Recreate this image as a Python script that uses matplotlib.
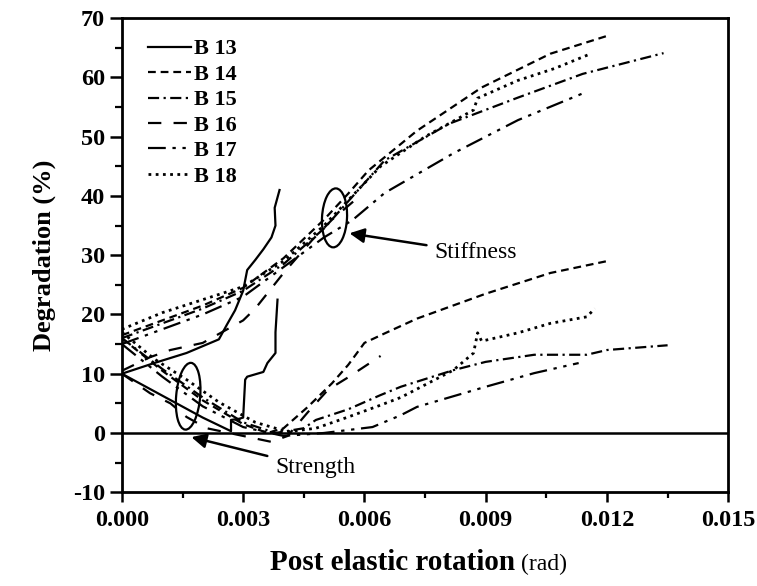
import matplotlib
matplotlib.use("Agg")
import matplotlib.pyplot as plt
from matplotlib.patches import Ellipse
from matplotlib.transforms import ScaledTranslation

plt.rcParams["axes.unicode_minus"] = False

# ---------------------------------------------------------------------------
# Data (rotation in rad, degradation in %)
# ---------------------------------------------------------------------------
labels = ["B 13", "B 14", "B 15", "B 16", "B 17", "B 18"]

# stiffness degradation curves
b13_stf_x = [0, 0.0008, 0.0016, 0.0024, 0.0026, 0.0028, 0.0030, 0.0031, 0.0033, 0.0035, 0.0037, 0.0038, 0.00378, 0.0039]
b13_stf_y = [10, 11.8, 13.5, 15.8, 18.3, 20.7, 24, 27.5, 29.2, 31, 33, 35, 38, 41]
b14_stf_x = [0, 0.001, 0.002, 0.003, 0.004, 0.005, 0.0056, 0.0061, 0.0073, 0.0089, 0.0106, 0.0120]
b14_stf_y = [16.5, 19, 21.5, 24.5, 29.5, 36, 40.4, 44.3, 51, 58.3, 64, 67]
b15_stf_x = [0, 0.001, 0.002, 0.003, 0.004, 0.005, 0.0065, 0.0081, 0.0098, 0.0114, 0.0134]
b15_stf_y = [16, 18.5, 21, 24, 28.5, 34.5, 46, 52.2, 56.6, 60.6, 64.1]
b16_stf_x = [0, 0.0007, 0.0012, 0.0020, 0.0030, 0.0033, 0.0040, 0.0047, 0.0052, 0.0058]
b16_stf_y = [10.5, 12.8, 14, 15.2, 19, 21, 27, 32.5, 36, 39.5]
b17_stf_x = [0, 0.001, 0.002, 0.003, 0.004, 0.005, 0.0057, 0.0065, 0.0082, 0.0098, 0.0114]
b17_stf_y = [15, 17.5, 20, 23, 28, 33, 35.9, 40.5, 47.2, 52.8, 57.3]
b18_stf_x = [0, 0.001, 0.002, 0.003, 0.004, 0.005, 0.0064, 0.0075, 0.0087, 0.0088, 0.0098, 0.0107, 0.0116]
b18_stf_y = [17.5, 20.3, 22.5, 24.7, 29, 35, 45, 50, 54.5, 56.5, 59.5, 61.5, 64]

# strength degradation curves
b13_str_x = [0, 0.0010, 0.0020, 0.0027, 0.0027, 0.0029, 0.0030, 0.00305, 0.0031, 0.0035, 0.0036, 0.0038, 0.0038, 0.00385]
b13_str_y = [10, 6.3, 2.6, 0.3, 2.2, 2.4, 2.6, 9, 9.5, 10.3, 11.8, 13.5, 17, 22.5]
b14_str_x = [0, 0.001, 0.002, 0.003, 0.0036, 0.0040, 0.0046, 0.0052, 0.0056, 0.0060, 0.0065, 0.0073, 0.0090, 0.0106, 0.0120]
b14_str_y = [16, 10.5, 5.5, 1.5, 0, 0.8, 4.4, 8.4, 11.5, 15.2, 16.8, 19.3, 23.5, 27, 29]
b15_str_x = [0, 0.001, 0.002, 0.003, 0.0038, 0.0045, 0.0048, 0.0056, 0.0064, 0.0069, 0.0082, 0.0090, 0.0102, 0.0115, 0.0120, 0.0135]
b15_str_y = [16, 10.8, 6, 1.8, 0, 0.8, 2.2, 4, 6.4, 7.8, 10.6, 12, 13.2, 13.2, 14, 14.8]
b16_str_x = [0, 0.0007, 0.0012, 0.0016, 0.0021, 0.0030, 0.0037, 0.0041, 0.0046, 0.0051, 0.0056, 0.0064]
b16_str_y = [10, 6.7, 5, 2.7, 0.8, -0.5, -1.5, -0.5, 3.5, 7.3, 9.4, 13]
b17_str_x = [0, 0.001, 0.002, 0.003, 0.004, 0.005, 0.0062, 0.0069, 0.0073, 0.0090, 0.0102, 0.0113]
b17_str_y = [15, 9.5, 4.5, 1, -0.5, 0, 1, 3, 4.4, 7.8, 10.1, 11.8]
b18_str_x = [0, 0.0008, 0.0016, 0.0024, 0.0033, 0.0041, 0.0048, 0.0056, 0.0064, 0.0069, 0.0082, 0.0087, 0.0088, 0.0089, 0.0098, 0.0106, 0.0115, 0.0117]
b18_str_y = [17, 12.5, 9, 5.2, 1.8, 0.2, 0.8, 2.7, 4.7, 6, 10.6, 13.5, 16.9, 15.5, 16.9, 18.5, 19.6, 21]

stiffness = [(b13_stf_x, b13_stf_y), (b14_stf_x, b14_stf_y), (b15_stf_x, b15_stf_y),
             (b16_stf_x, b16_stf_y), (b17_stf_x, b17_stf_y), (b18_stf_x, b18_stf_y)]
strength = [(b13_str_x, b13_str_y), (b14_str_x, b14_str_y), (b15_str_x, b15_str_y),
            (b16_str_x, b16_str_y), (b17_str_x, b17_str_y), (b18_str_x, b18_str_y)]

DOTTED = (0, (1, 1.6))
styles = [
    "-",
    (0, (3.5, 2.2)),
    (0, (5, 2, 1, 2)),
    (0, (6, 5.5)),
    (0, (8, 3, 1.5, 3, 1.5, 3)),
    DOTTED,
]

x_ticks = [0.000, 0.003, 0.006, 0.009, 0.012, 0.015]
y_ticks = [-10, 0, 10, 20, 30, 40, 50, 60, 70]

SERIF = "Liberation Serif"

# ---------------------------------------------------------------------------
# Figure
# ---------------------------------------------------------------------------
fig = plt.figure(figsize=(7.57, 5.86), dpi=100)
ax = fig.add_axes([0.161, 0.160, 0.801, 0.809])

for (sx, sy), (tx, ty), ls, lab in zip(stiffness, strength, styles, labels):
    lw = 2.0 if ls == DOTTED else 1.6
    ax.plot(sx, sy, color="black", ls=ls, lw=lw, label=lab)
    ax.plot(tx, ty, color="black", ls=ls, lw=lw)

ax.axhline(0, color="black", lw=1.8)

# ellipses sized in inches, centred on data points
def ring(cx, cy, w, h, ang):
    tr = fig.dpi_scale_trans + ScaledTranslation(cx, cy, ax.transData)
    ax.add_patch(Ellipse((0, 0), w, h, angle=ang, transform=tr,
                         fill=False, ec="black", lw=1.6))

ring(0.00526, 36.3, 0.25, 0.59, -3)
ring(0.00164, 6.2, 0.24, 0.67, -5)

arrow = dict(arrowstyle="-|>", color="black", lw=1.8, mutation_scale=22)
ax.annotate("Stiffness", xy=(0.00563, 33.7), xytext=(0.00774, 30.4),
            ha="left", va="center", fontsize=17, family=SERIF,
            arrowprops=dict(arrow, shrinkA=4, shrinkB=0))
ax.annotate("Strength", xy=(0.00172, -0.7), xytext=(0.0038, -5.9),
            ha="left", va="center", fontsize=17, family=SERIF,
            arrowprops=dict(arrow, shrinkA=4, shrinkB=0))

ax.set_xlim(0, 0.015)
ax.set_ylim(-10, 70)
ax.set_xticks(x_ticks)
ax.set_xticklabels([f"{v:.3f}" for v in x_ticks])
ax.set_yticks(y_ticks)
ax.set_xticks([0.0015 + 0.003 * i for i in range(5)], minor=True)
ax.set_yticks([-5 + 10 * i for i in range(8)], minor=True)
ax.tick_params(axis="y", which="major", direction="out", length=9, width=1.8, pad=3)
ax.tick_params(axis="y", which="minor", direction="out", length=5, width=1.6)
ax.tick_params(axis="x", which="major", direction="out", length=7, width=1.8, pad=6)
ax.tick_params(axis="x", which="minor", direction="out", length=4, width=1.6)
for lbl in ax.get_xticklabels() + ax.get_yticklabels():
    lbl.set_fontfamily(SERIF)
    lbl.set_fontweight("bold")
    lbl.set_fontsize(17.5)
for sp in ax.spines.values():
    sp.set_linewidth(2.0)

ax.set_ylabel("Degradation (%)", fontsize=19, fontweight="bold", family=SERIF, labelpad=12)

leg = ax.legend(loc="upper left", bbox_to_anchor=(0.028, 0.975), frameon=False,
                handlelength=1.95, handletextpad=0.12, labelspacing=0.22,
                borderaxespad=0, prop=dict(family=SERIF, weight="bold", size=16))

# x label: bold main part + smaller "(rad)"
t1 = fig.text(0.357, 0.027, "Post elastic rotation", fontsize=21, fontweight="bold",
              family=SERIF, ha="left", va="baseline")
fig.canvas.draw()
bb = t1.get_window_extent()
fig.text(bb.x1 / fig.bbox.width + 0.008, 0.027, "(rad)", fontsize=17,
         family=SERIF, ha="left", va="baseline")

fig.savefig("out.png", dpi=100)
